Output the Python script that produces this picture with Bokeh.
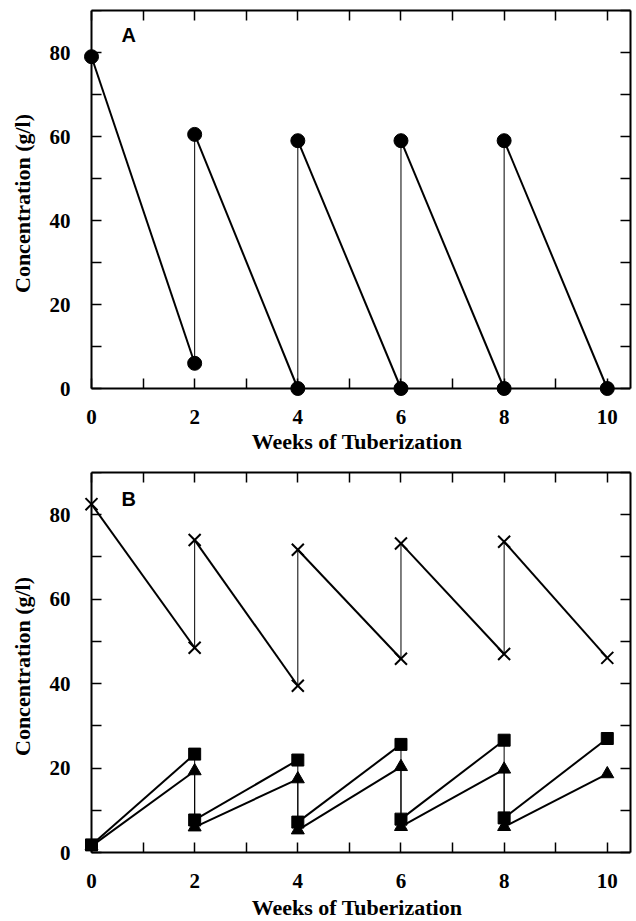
from bokeh.plotting import figure
from bokeh.models import (LinearAxis, FixedTicker, Range1d, Label, ColumnDataSource,
                          CustomJSTickFormatter)
from bokeh.layouts import column
from bokeh.embed import file_html
from bokeh.resources import INLINE

# ---- data ----
start_weeks = [0, 2, 4, 6, 8]
end_weeks = [2, 4, 6, 8, 10]
refill_weeks = [2, 4, 6, 8]

# Panel A (circles)
a_fresh = [79, 60.5, 59, 59, 59]
a_spent = [6, 0, 0, 0, 0]

# Panel B
x_fresh = [82.5, 74.0, 71.7, 73.2, 73.6]
x_spent = [48.5, 39.5, 45.9, 47.0, 46.1]
sq_fresh = [1.8, 7.7, 7.2, 7.9, 8.2]
sq_spent = [23.3, 21.9, 25.6, 26.6, 27.0]
tr_fresh = [1.5, 6.0, 5.3, 6.1, 6.1]
tr_spent = [19.3, 17.4, 20.3, 19.7, 18.6]

x_major = [0, 2, 4, 6, 8, 10]
x_minor = [1, 3, 5, 7, 9]
y_major = [0, 20, 40, 60, 80]
y_minor = [10, 30, 50, 70, 90]

X_END = 10.45
Y_END = 90

SERIF = "Liberation Serif"
EXT = 8  # pixels of frame beyond the axes so edge markers are not clipped


def style_axis(ax, labels=True, line=True):
    ax.axis_line_width = 2
    ax.axis_line_color = "black" if line else None
    ax.major_tick_in = 10
    ax.major_tick_out = 0
    ax.minor_tick_in = 10
    ax.minor_tick_out = 0
    ax.major_tick_line_width = 1.5
    ax.minor_tick_line_width = 1.5
    ax.major_tick_line_color = "black" if line else None
    ax.minor_tick_line_color = "black" if line else None
    ax.major_label_text_font = SERIF
    ax.major_label_text_font_style = "bold"
    ax.major_label_text_font_size = "21px"
    ax.major_label_text_color = "black"
    ax.axis_label_text_font = SERIF
    ax.axis_label_text_font_style = "bold"
    ax.axis_label_text_font_size = "22px"
    ax.axis_label_text_color = "black"
    if not labels:
        ax.formatter = CustomJSTickFormatter(code="return ''")
        ax.major_label_standoff = 0


def make_panel(px_per_y, border_top, fig_h, letter, letter_y, label_gap):
    px_per_x = 539 / X_END
    x0 = -EXT / px_per_x
    y0 = -EXT / px_per_y
    frame_h = int(round(Y_END * px_per_y)) + EXT
    p = figure(width=636, height=fig_h, frame_width=539 + EXT, frame_height=frame_h,
               x_range=Range1d(x0, X_END), y_range=Range1d(y0, Y_END),
               output_backend="svg", toolbar_location=None,
               x_axis_type=None, y_axis_type=None,
               min_border_left=91 - EXT, min_border_right=5,
               min_border_top=border_top,
               min_border_bottom=fig_h - border_top - frame_h)
    p.outline_line_color = None
    p.xgrid.visible = False
    p.ygrid.visible = False
    p.background_fill_color = "white"
    p.border_fill_color = "white"

    xt = FixedTicker(ticks=x_major, minor_ticks=x_minor)
    yt = FixedTicker(ticks=y_major, minor_ticks=y_minor)

    # text-only axes at the frame edges
    bx = LinearAxis(ticker=xt, axis_label="Weeks of Tuberization")
    style_axis(bx, line=False)
    bx.major_label_standoff = 21 - EXT
    bx.axis_label_standoff = label_gap
    p.add_layout(bx, "below")

    ly = LinearAxis(ticker=yt, axis_label="Concentration (g/l)")
    style_axis(ly, line=False)
    ly.major_label_standoff = 21 - EXT
    ly.axis_label_standoff = 12
    p.add_layout(ly, "left")

    # axis lines and ticks at the data origin
    bx2 = LinearAxis(ticker=xt, fixed_location=0, bounds=(0, X_END))
    style_axis(bx2, labels=False)
    p.add_layout(bx2, "below")

    ly2 = LinearAxis(ticker=yt, fixed_location=0, bounds=(0, Y_END))
    style_axis(ly2, labels=False)
    p.add_layout(ly2, "left")

    tx = LinearAxis(ticker=FixedTicker(ticks=x_major + x_minor), bounds=(0, X_END))
    style_axis(tx, labels=False)
    p.add_layout(tx, "above")

    ry = LinearAxis(ticker=FixedTicker(ticks=y_major + y_minor), bounds=(0, Y_END))
    style_axis(ry, labels=False)
    p.add_layout(ry, "right")

    p.add_layout(Label(x=0.72, y=letter_y, text=letter, text_font="Liberation Sans",
                       text_font_style="bold", text_font_size="20px",
                       text_align="center", text_baseline="middle", text_color="black"))
    return p


def draw_series(p, fresh, spent, marker, size):
    seg = ColumnDataSource(dict(x0=start_weeks, y0=fresh, x1=end_weeks, y1=spent))
    p.segment("x0", "y0", "x1", "y1", source=seg, line_color="black", line_width=2)
    vert = ColumnDataSource(dict(x0=refill_weeks, y0=spent[:-1],
                                 x1=refill_weeks, y1=fresh[1:]))
    p.segment("x0", "y0", "x1", "y1", source=vert, line_color="black", line_width=1)
    pts = ColumnDataSource(dict(x=start_weeks + end_weeks, y=fresh + spent))
    if marker == "x":
        p.scatter("x", "y", source=pts, marker="x", size=size,
                  line_color="black", line_width=2)
    else:
        p.scatter("x", "y", source=pts, marker=marker, size=size,
                  fill_color="black", line_color="black")


pA = make_panel(378 / 90, 10, 460, "A", 84.2, 2)
draw_series(pA, a_fresh, a_spent, "circle", 14)

pB = make_panel(380 / 90, 12, 461, "B", 83.7, 4)
draw_series(pB, x_fresh, x_spent, "x", 17)
draw_series(pB, sq_fresh, sq_spent, "square", 12)
draw_series(pB, tr_fresh, tr_spent, "triangle", 13)

layout = column(pA, pB, spacing=0)
open("out.html", "w").write(file_html(layout, INLINE))
